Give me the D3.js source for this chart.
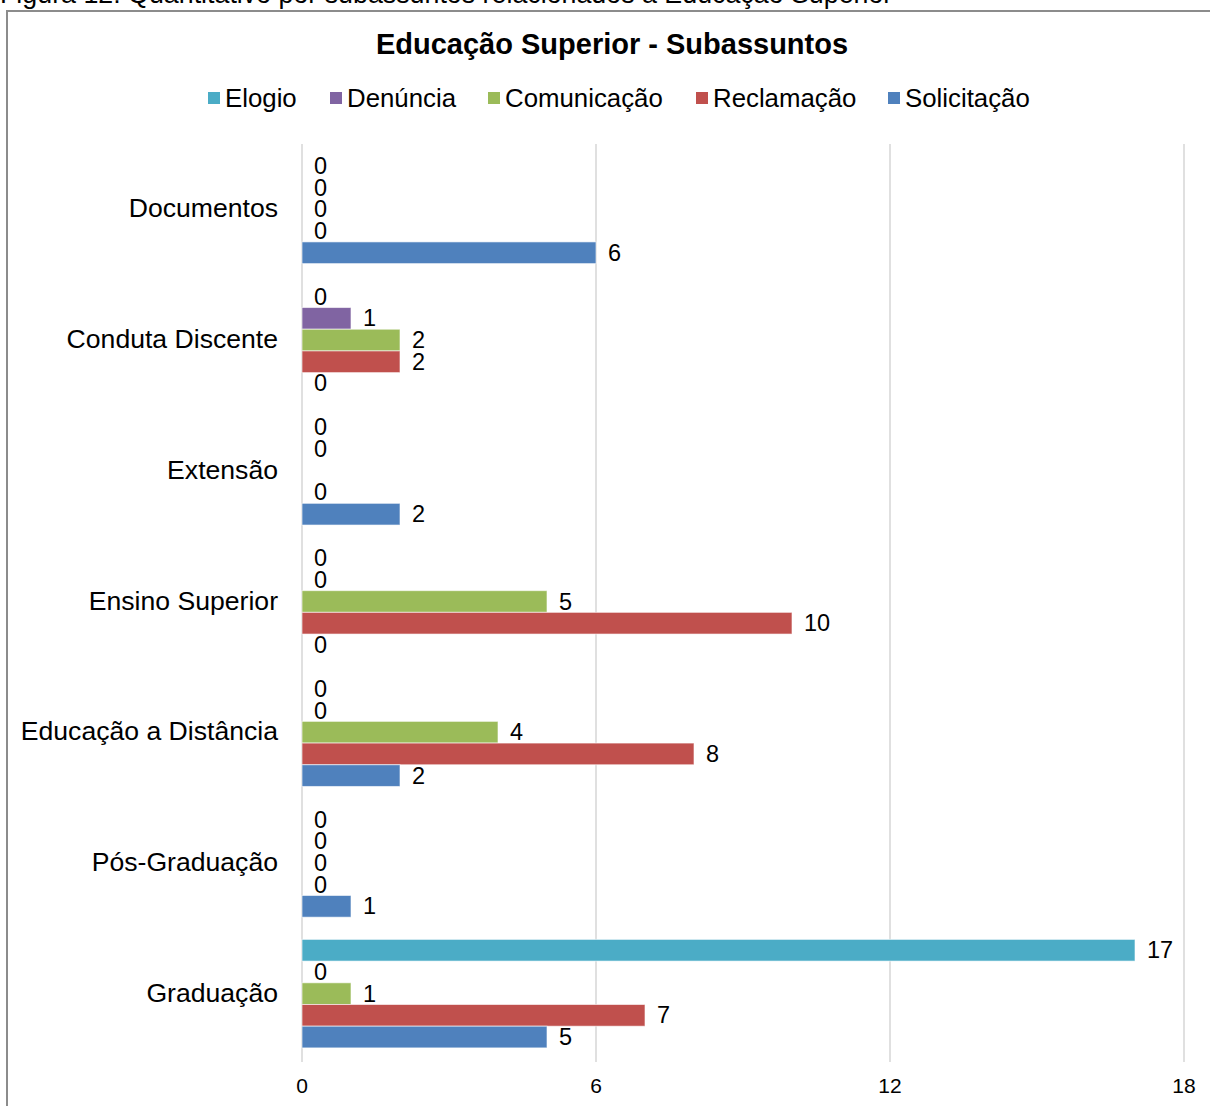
<!DOCTYPE html>
<html>
<head>
<meta charset="utf-8">
<script src="https://cdn.jsdelivr.net/npm/d3@7"></script>
<style>
  body { margin: 0; background: #fff; }
  svg { display: block; font-family: "Liberation Sans", Arial, sans-serif; }
</style>
</head>
<body>
<svg id="canvas" width="1210" height="1106"></svg>
<script>
const categories = [
    "Documentos",
    "Conduta Discente",
    "Extensão",
    "Ensino Superior",
    "Educação a Distância",
    "Pós-Graduação",
    "Graduação"
];
const series = ["Elogio", "Denúncia", "Comunicação", "Reclamação", "Solicitação"];
const colors = ["#4bacc6", "#8064a2", "#9bbb59", "#c0504d", "#4f81bd"];

// one array per series, same order as categories (null = no label shown)
const elogio      = [0, 0, 0, 0, 0, 0, 17];
const denuncia    = [0, 1, 0, 0, 0, 0, 0];
const comunicacao = [0, 2, null, 5, 4, 0, 1];
const reclamacao  = [0, 2, 0, 10, 8, 0, 7];
const solicitacao = [6, 0, 2, 0, 2, 1, 5];
const values = [elogio, denuncia, comunicacao, reclamacao, solicitacao];

const xTicks = [0, 6, 12, 18];

const svg = d3.select("svg#canvas");

// frame + caption (caption is cut by the top edge in the original)
svg.append("text")
    .attr("x", 0).attr("y", 3)
    .attr("font-size", 26.8)
    .attr("fill", "#000")
    .text("Figura 12: Quantitativo por subassuntos relacionados à Educação Superior");
svg.append("path")
    .attr("d", "M7,1106 V11 H1210")
    .attr("fill", "none")
    .attr("stroke", "#8c8c8c")
    .attr("stroke-width", 2);

svg.append("text")
    .attr("x", 612).attr("y", 54)
    .attr("text-anchor", "middle")
    .attr("font-size", 29)
    .attr("font-weight", "bold")
    .text("Educação Superior - Subassuntos");

// legend
const legendX = [208, 330, 488, 696, 888];
const legend = svg.append("g").selectAll("g")
    .data(series)
    .join("g")
    .attr("transform", (_, i) => `translate(${legendX[i]}, 98)`);
legend.append("rect")
    .attr("x", 0).attr("y", -6)
    .attr("width", 12).attr("height", 12)
    .attr("fill", (_, i) => colors[i]);
legend.append("text")
    .attr("x", 17).attr("y", 9)
    .attr("font-size", 25.8)
    .text(d => d);

// plot
const x = d3.scaleLinear().domain([0, 18]).range([302, 1184]);
const y = d3.scaleBand().domain(categories).range([144, 1059]).paddingInner(0.17).paddingOuter(0.085);
const ySub = d3.scaleBand().domain(series).range([0, y.bandwidth()]);

svg.append("g").selectAll("line")
    .data(xTicks)
    .join("line")
    .attr("x1", d => x(d)).attr("x2", d => x(d))
    .attr("y1", 144).attr("y2", 1062)
    .attr("stroke", "#d0d0d0")
    .attr("stroke-width", 1.3);

svg.append("g").selectAll("text")
    .data(xTicks)
    .join("text")
    .attr("x", d => x(d)).attr("y", 1093)
    .attr("text-anchor", "middle")
    .attr("font-size", 21)
    .text(d => d);

svg.append("g").selectAll("text")
    .data(categories)
    .join("text")
    .attr("x", 278)
    .attr("y", d => y(d) + y.bandwidth() / 2 + 8)
    .attr("text-anchor", "end")
    .attr("font-size", 26.6)
    .text(d => d);

const cells = [];
categories.forEach((c, ci) => {
    series.forEach((s, si) => {
        cells.push({ cat: c, ser: s, si: si, v: values[si][ci] });
    });
});

svg.append("g").selectAll("rect")
    .data(cells.filter(d => d.v))
    .join("rect")
    .attr("x", x(0))
    .attr("y", d => y(d.cat) + ySub(d.ser))
    .attr("width", d => x(d.v) - x(0))
    .attr("height", ySub.bandwidth())
    .attr("fill", d => colors[d.si])
    .attr("stroke", "#fff")
    .attr("stroke-opacity", 0.6)
    .attr("stroke-width", 1);

svg.append("g").selectAll("text")
    .data(cells.filter(d => d.v !== null))
    .join("text")
    .attr("x", d => x(d.v) + 12)
    .attr("y", d => y(d.cat) + ySub(d.ser) + ySub.bandwidth() / 2 + 8)
    .attr("font-size", 23.5)
    .text(d => d.v);
</script>
</body>
</html>
